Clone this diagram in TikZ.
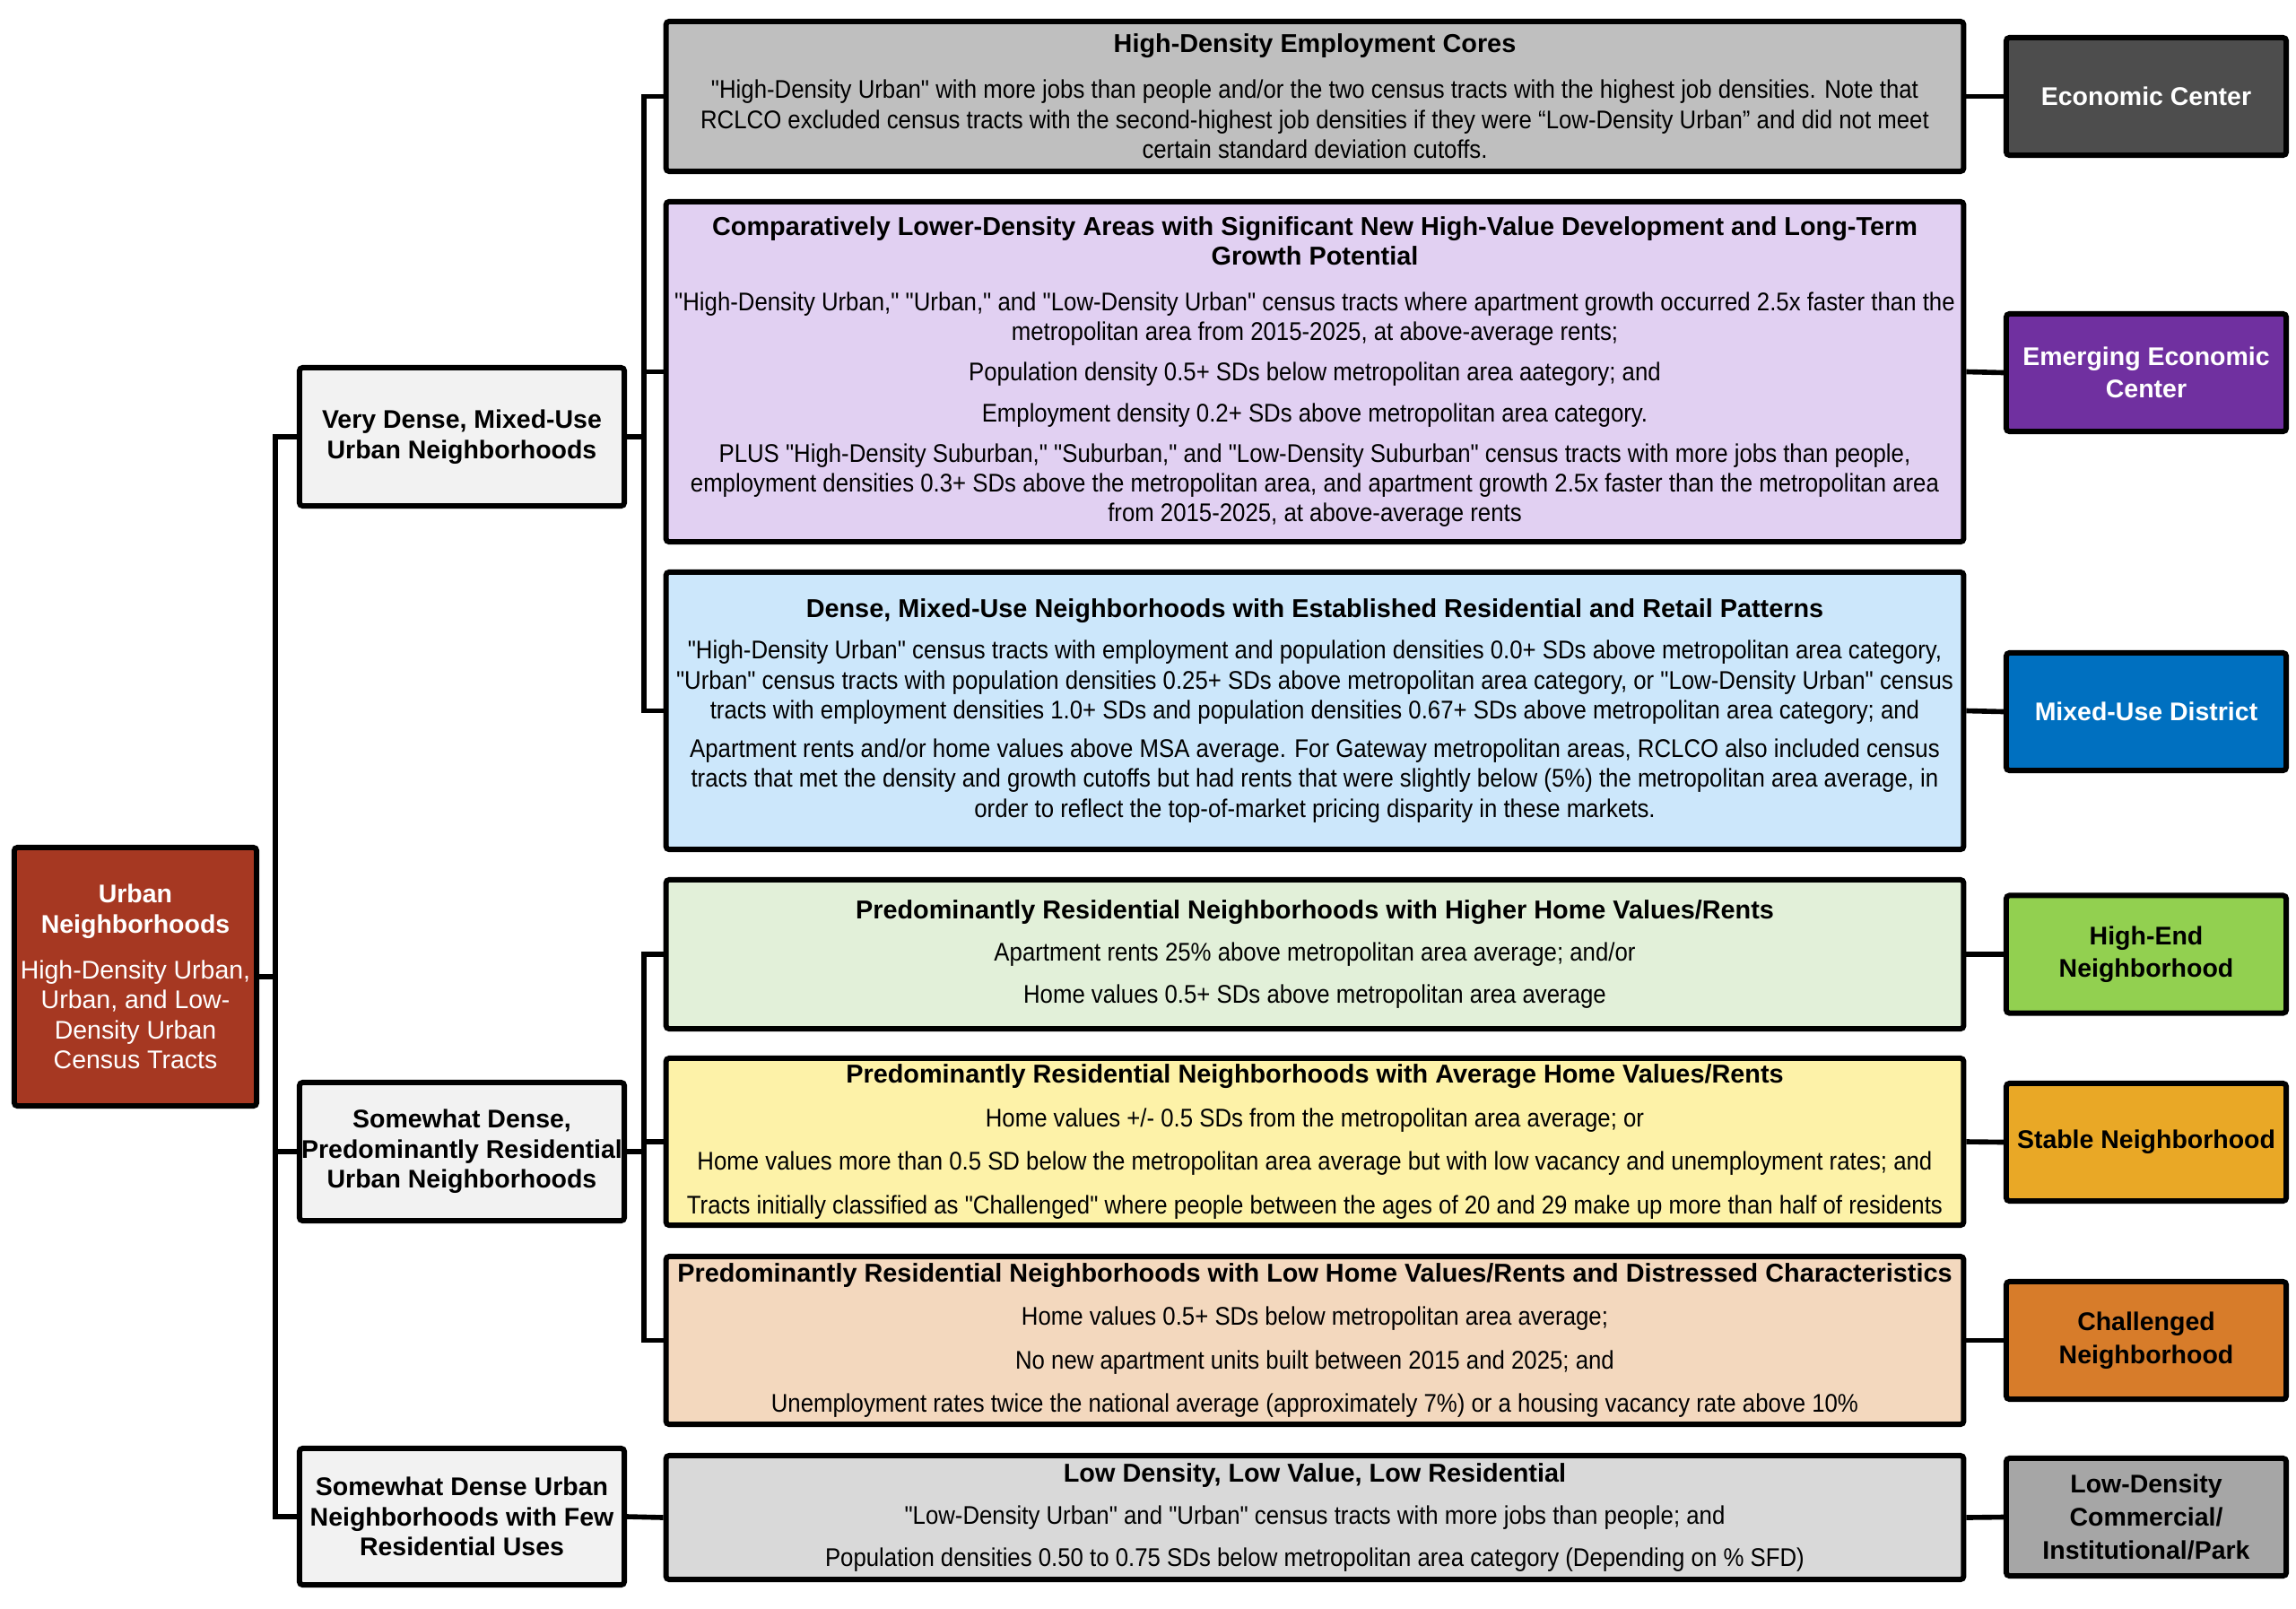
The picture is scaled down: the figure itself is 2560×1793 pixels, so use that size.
\documentclass[tikz,border=0pt]{standalone}
\usepackage{fontspec}
\setmainfont{Liberation Sans}[Ligatures=TeXOff]
\newfontfamily\narrowfont{Liberation Sans}[Ligatures=TeXOff, FakeStretch=0.905]
\definecolor{cRoot}{RGB}{166,56,34}
\definecolor{cLtwo}{RGB}{242,242,242}
\definecolor{cGray}{RGB}{191,191,191}
\definecolor{cPurple}{RGB}{225,208,242}
\definecolor{cBlue}{RGB}{204,231,251}
\definecolor{cGreen}{RGB}{226,240,217}
\definecolor{cYellow}{RGB}{253,242,168}
\definecolor{cPeach}{RGB}{243,216,190}
\definecolor{cLGray}{RGB}{217,217,217}
\definecolor{kEC}{RGB}{77,77,77}
\definecolor{kEEC}{RGB}{112,48,160}
\definecolor{kMUD}{RGB}{0,112,192}
\definecolor{kHEN}{RGB}{146,208,80}
\definecolor{kSN}{RGB}{233,168,38}
\definecolor{kCN}{RGB}{215,124,42}
\definecolor{kLD}{RGB}{166,166,166}
\newcommand\myfs{\fontsize{8.1pt}{9.5pt}\selectfont}
\newcommand\myfsk{\fontsize{8.1pt}{10.4pt}\selectfont}
\newcommand\mybody{\narrowfont\fontsize{8.1pt}{9.5pt}\selectfont}
\newcommand\myttl[1]{{\normalfont\fontsize{8.2pt}{9.5pt}\selectfont\bfseries #1}}
\begin{document}
\begin{tikzpicture}[x=0.01cm,y=-0.01cm,
  box/.style={draw=black, line width=1.7pt, rounded corners=1pt, inner sep=0pt, align=center, font=\myfs},
  rootbox/.style={box, fill=cRoot, text=white, minimum width=2.70cm, minimum height=2.88cm},
  ltwo/.style={box, fill=cLtwo, font=\myfs\bfseries, minimum width=3.62cm},
  desc/.style={box, font=\mybody, minimum width=14.46cm},
  cat/.style={box, font=\myfsk\bfseries, minimum width=3.12cm, minimum height=1.31cm},
  conn/.style={line width=1.6pt, draw=black}]
\useasboundingbox (0,0) rectangle (2560,1793);

% nodes
\node[rootbox] (root) at (151,1089) {\textbf{Urban}\\\textbf{Neighborhoods}\\[5pt]High-Density Urban,\\Urban, and Low-\\Density Urban\\Census Tracts};

\node[ltwo, minimum height=1.54cm] (A) at (515,487) {Very Dense, Mixed-Use\\Urban Neighborhoods};
\node[ltwo, minimum height=1.54cm] (B) at (515,1284) {Somewhat Dense,\\Predominantly Residential\\Urban Neighborhoods};
\node[ltwo, minimum height=1.52cm] (C) at (515,1691) {Somewhat Dense Urban\\Neighborhoods with Few\\Residential Uses};

\node[desc, fill=cGray, minimum height=1.67cm] (d1) at (1466,107.5) {\myttl{High-Density Employment Cores}\\[5pt]
"High-Density Urban" with more jobs than people and/or the two census tracts with the highest job densities. Note that\\
RCLCO excluded census tracts with the second-highest job densities if they were “Low-Density Urban” and did not meet\\
certain standard deviation cutoffs.};

\node[desc, fill=cPurple, minimum height=3.79cm] (d2) at (1466,414.5) {\myttl{Comparatively Lower-Density Areas with Significant New High-Value Development and Long-Term}\\
\myttl{Growth Potential}\\[5pt]
"High-Density Urban," "Urban," and "Low-Density Urban" census tracts where apartment growth occurred 2.5x faster than the\\
metropolitan area from 2015-2025, at above-average rents;\\[3.3pt]
Population density 0.5+ SDs below metropolitan area aategory; and\\[3.3pt]
Employment density 0.2+ SDs above metropolitan area category.\\[3.3pt]
PLUS "High-Density Suburban," "Suburban," and "Low-Density Suburban" census tracts with more jobs than people,\\
employment densities 0.3+ SDs above the metropolitan area, and apartment growth 2.5x faster than the metropolitan area\\
from 2015-2025, at above-average rents};

\node[desc, fill=cBlue, minimum height=3.09cm] (d3) at (1466,792.5) {\myttl{Dense, Mixed-Use Neighborhoods with Established Residential and Retail Patterns}\\[3.6pt]
"High-Density Urban" census tracts with employment and population densities 0.0+ SDs above metropolitan area category,\\
"Urban" census tracts with population densities 0.25+ SDs above metropolitan area category, or "Low-Density Urban" census\\
tracts with employment densities 1.0+ SDs and population densities 0.67+ SDs above metropolitan area category; and\\[2.6pt]
Apartment rents and/or home values above MSA average. For Gateway metropolitan areas, RCLCO also included census\\
tracts that met the density and growth cutoffs but had rents that were slightly below (5\%) the metropolitan area average, in\\
order to reflect the top-of-market pricing disparity in these markets.};

\node[desc, fill=cGreen, minimum height=1.66cm] (d4) at (1466,1064) {\myttl{Predominantly Residential Neighborhoods with Higher Home Values/Rents}\\[3.8pt]
Apartment rents 25\% above metropolitan area average; and/or\\[3.8pt]
Home values 0.5+ SDs above metropolitan area average};

\node[desc, fill=cYellow, minimum height=1.86cm] (d5) at (1466,1273) {\myttl{Predominantly Residential Neighborhoods with Average Home Values/Rents}\\[4.4pt]
Home values +/- 0.5 SDs from the metropolitan area average; or\\[4.4pt]
Home values more than 0.5 SD below the metropolitan area average but with low vacancy and unemployment rates; and\\[4.4pt]
Tracts initially classified as "Challenged" where people between the ages of 20 and 29 make up more than half of residents};

\node[desc, fill=cPeach, minimum height=1.87cm] (d6) at (1466,1494.5) {\myttl{Predominantly Residential Neighborhoods with Low Home Values/Rents and Distressed Characteristics}\\[4.2pt]
Home values 0.5+ SDs below metropolitan area average;\\[4.2pt]
No new apartment units built between 2015 and 2025; and\\[4.2pt]
Unemployment rates twice the national average (approximately 7\%) or a housing vacancy rate above 10\%};

\node[desc, fill=cLGray, minimum height=1.38cm] (d7) at (1466,1692) {\myttl{Low Density, Low Value, Low Residential}\\[3.8pt]
"Low-Density Urban" and "Urban" census tracts with more jobs than people; and\\[3.8pt]
Population densities 0.50 to 0.75 SDs below metropolitan area category (Depending on \% SFD)};

\node[cat, fill=kEC, text=white] (k1) at (2393,107.5) {Economic Center};
\node[cat, fill=kEEC, text=white] (k2) at (2393,415.5) {Emerging Economic\\Center};
\node[cat, fill=kMUD, text=white] (k3) at (2393,793.5) {Mixed-Use District};
\node[cat, fill=kHEN] (k4) at (2393,1064) {High-End\\Neighborhood};
\node[cat, fill=kSN] (k5) at (2393,1273.5) {Stable Neighborhood};
\node[cat, fill=kCN] (k6) at (2393,1494.5) {Challenged\\Neighborhood};
\node[cat, fill=kLD] (k7) at (2393,1691.5) {Low-Density\\Commercial/\\Institutional/Park};

% bus coordinates
\coordinate (trunk) at (307,0);
\coordinate (bus) at (718,0);

% connectors
\draw[conn] (root.east) -- (root.east -| trunk);
\draw[conn] (A.west) -- (A.west -| trunk) -- (C.west -| trunk) -- (C.west);
\draw[conn] (B.west) -- (B.west -| trunk);

\draw[conn] (A.east) -- (A.east -| bus);
\draw[conn] (d1.west) -- (d1.west -| bus) -- (d3.west -| bus) -- (d3.west);
\draw[conn] (d2.west) -- (d2.west -| bus);

\draw[conn] (B.east) -- (B.east -| bus);
\draw[conn] (d4.west) -- (d4.west -| bus) -- (d6.west -| bus) -- (d6.west);
\draw[conn] (d5.west) -- (d5.west -| bus);

\draw[conn] (C.east) -- (d7.west);

\foreach \i in {1,...,7}{\draw[conn] (d\i.east) -- (k\i.west);}
\end{tikzpicture}
\end{document}
